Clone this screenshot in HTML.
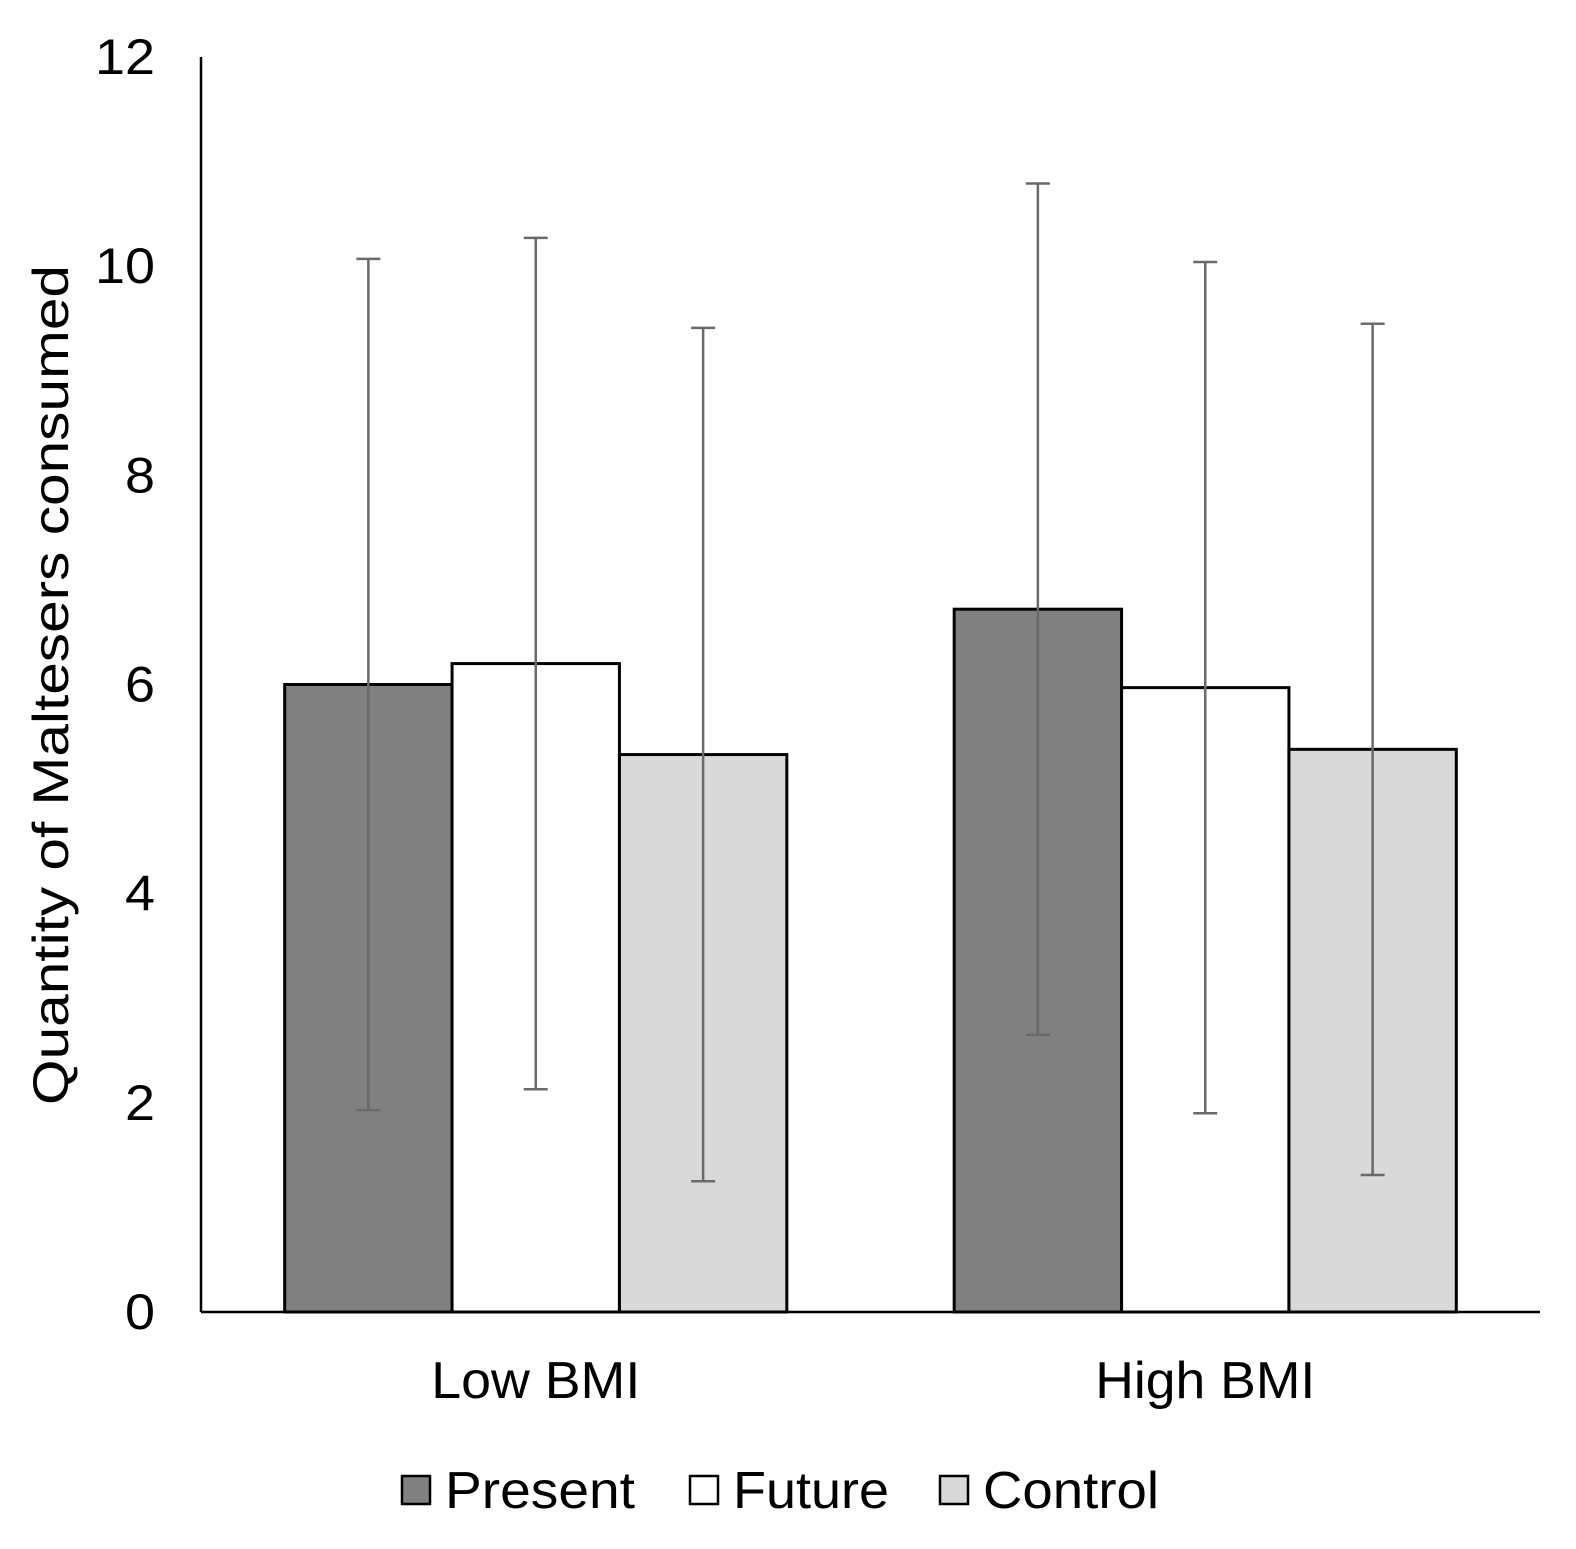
<!DOCTYPE html>
<html><head><meta charset="utf-8"><style>
html,body{margin:0;padding:0;background:#fff;}
svg{display:block;font-family:"Liberation Sans",Arial,sans-serif;}
</style></head><body>
<svg id="chart" width="1576" height="1549" viewBox="0 0 1576 1549" xmlns="http://www.w3.org/2000/svg"></svg>
<script>
const categories = ["Low BMI", "High BMI"];
const seriesNames = ["Present", "Future", "Control"];
const presentValues = [6.0, 6.72];
const futureValues = [6.2, 5.97];
const controlValues = [5.33, 5.38];
const presentErrors = [4.07, 4.07];
const futureErrors = [4.07, 4.07];
const controlErrors = [4.08, 4.07];
const yTicks = [0, 2, 4, 6, 8, 10, 12];

const svg = document.getElementById('chart');
const NS = 'http://www.w3.org/2000/svg';
const X0 = 201, X1 = 1540, Y0 = 1312, Ymax = 12, Ytop = 57;
function yScale(v){ return Y0 - (Y0 - Ytop) * v / Ymax; }
const catW = (X1 - X0) / categories.length;
const barW = catW * 0.75 / 3;
function xBar(ci, si){ return X0 + catW * ci + catW * 0.125 + barW * si; }
function mk(tag, attrs, parent){
  const e = document.createElementNS(NS, tag);
  for (const k in attrs) e.setAttribute(k, attrs[k]);
  (parent || svg).appendChild(e); return e;
}
const fills = ["#808080", "#ffffff", "#d9d9d9"];
const vals = [presentValues, futureValues, controlValues];
const errs = [presentErrors, futureErrors, controlErrors];

// y tick labels
yTicks.forEach(t => {
  const s = String(t);
  const tx = mk('text', {x: 155, y: yScale(t) + 17, 'text-anchor': 'end', 'font-size': 50, fill: '#000', textLength: s.length * 30, lengthAdjust: 'spacingAndGlyphs'});
  tx.textContent = s;
  
  
});
const yt = mk('text', {x: 68, y: 685, 'text-anchor': 'middle', 'font-size': 50, fill: '#000', transform: 'rotate(-90 68 685)', textLength: 840, lengthAdjust: 'spacingAndGlyphs'});
yt.textContent = 'Quantity  of Maltesers consumed';



const catLen = [209, 220];
// bars
categories.forEach((c, ci) => {
  seriesNames.forEach((s, si) => {
    const x = xBar(ci, si), y = yScale(vals[si][ci]);
    const r = mk('rect', {x: x, y: y, width: barW, height: Y0 - y, fill: fills[si], stroke: '#000', 'stroke-width': 3});
    
    
  });
  const lab = mk('text', {x: X0 + catW * (ci + 0.5), y: 1398, 'text-anchor': 'middle', 'font-size': 52, fill: '#000', textLength: catLen[ci], lengthAdjust: 'spacingAndGlyphs'});
  lab.textContent = c;
  
  
});
// error bars
categories.forEach((c, ci) => {
  seriesNames.forEach((s, si) => {
    const cx = xBar(ci, si) + barW / 2;
    const hi = yScale(vals[si][ci] + errs[si][ci]), lo = yScale(vals[si][ci] - errs[si][ci]);
    const g = mk('g', {stroke: '#6a6a6a', 'stroke-width': 2.5});
    
    
    mk('line', {x1: cx, x2: cx, y1: hi, y2: lo}, g);
    mk('line', {x1: cx - 12, x2: cx + 12, y1: hi, y2: hi}, g);
    mk('line', {x1: cx - 12, x2: cx + 12, y1: lo, y2: lo}, g);
  });
});
// axes
const ya = mk('line', {x1: X0, x2: X0, y1: Ytop, y2: Y0, stroke: '#000', 'stroke-width': 2.5});


const xa = mk('line', {x1: X0, x2: X1, y1: Y0, y2: Y0, stroke: '#000', 'stroke-width': 2.5});



// legend
const legX = [402, 690, 940];
const legLen = [190, 156, 176];
seriesNames.forEach((s, si) => {
  const g = mk('g', {});
  
  
  mk('rect', {x: legX[si], y: 1476, width: 28, height: 28, fill: fills[si], stroke: '#000', 'stroke-width': 2.5}, g);
  const t = mk('text', {x: legX[si] + 43, y: 1508, 'font-size': 52, fill: '#000', textLength: legLen[si], lengthAdjust: 'spacingAndGlyphs'}, g);
  t.textContent = s;
});
</script>
</body></html>
